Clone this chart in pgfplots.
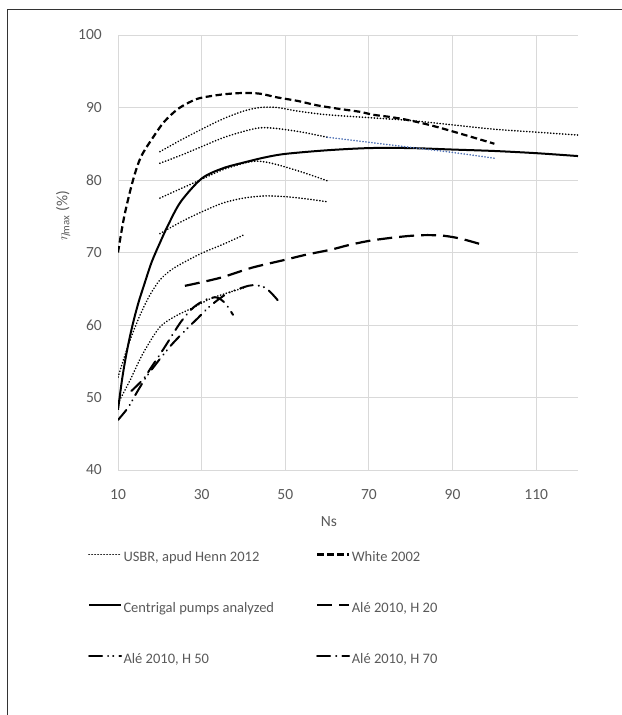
\documentclass[border=0pt]{standalone}
\usepackage{pgfplots}
\pgfplotsset{compat=1.18}
\usepackage{fontspec}
\setmainfont{Carlito}
\definecolor{gridgray}{RGB}{217,217,217}
\definecolor{txtgray}{RGB}{89,89,89}
\definecolor{usbrblue}{RGB}{79,113,180}
\begin{document}
\begin{tikzpicture}[x=1bp,y=1bp]
\useasboundingbox (0,0) rectangle (622,715);
\draw[line width=1.3bp, black!80] (7.5,0) -- (7.5,705.5) -- (622,705.5);
\begin{axis}[
  at={(118bp,245bp)}, anchor=south west,
  scale only axis, width=460bp, height=435bp,
  xmin=10, xmax=120, ymin=40, ymax=100,
  xtick={10,30,...,110}, ytick={40,50,...,100},
  grid=major, major grid style={draw=gridgray, line width=0.9bp},
  axis x line*=bottom, axis y line*=left,
  axis line style={draw=gridgray, line width=0.9bp},
  major tick length=0pt,
  tick label style={font=\fontsize{15.5bp}{18bp}\selectfont, text=txtgray, inner sep=0pt},
  /pgf/number format/assume math mode=true,
  xticklabel style={yshift=-19bp},
  yticklabel style={xshift=-16bp},
  xlabel={Ns}, ylabel={$\eta_{\mathrm{max}}$ (\%)},
  label style={font=\fontsize{15.5bp}{18bp}\selectfont, text=txtgray},
  xlabel style={at={(axis description cs:0.4587,-0.1195)}, anchor=center},
  ylabel style={at={(axis description cs:-0.1196,0.584)}, anchor=center},
  legend columns=2,
  legend cell align=left,
  legend style={at={(axis description cs:-0.0652,-0.1885)}, anchor=north west,
    draw=none, fill=none, inner sep=0pt, outer sep=0pt,
    font=\fontsize{14.5bp}{17bp}\selectfont, text=txtgray,
    nodes={inner sep=0pt, text height=10bp, text depth=3bp},
    row sep=37.5bp,
    /tikz/every odd column/.append style={column sep=1.5bp},
    /tikz/every even column/.append style={column sep=42bp}},
  legend image code/.code={\draw[#1] (0bp,4bp) -- (32bp,4bp);},
  usbr/.style={black, line width=1.6bp, dash pattern=on 0.3bp off 2.7bp, line cap=round},
]
% USBR curve a (legend)
\addplot[usbr, smooth] coordinates {(20,83.9)(25,85.5)(30,87.0)(35,88.4)(40,89.5)(44,90.0)(48,90.0)(53,89.5)(60,89.0)(70,88.6)(80,88.2)(90,87.6)(100,87.0)(110,86.6)(120,86.2)};
\addlegendentry{USBR, apud Henn 2012}
% White 2002
\addplot[black, line width=2.2bp, dash pattern=on 6.5bp off 3.5bp, smooth] coordinates {(10,70)(11.5,75)(13.6,80)(15.5,83.2)(18.4,85.9)(21,88)(24.1,89.7)(27,90.7)(29.6,91.3)(35,91.8)(39.9,92.0)(44,91.9)(48,91.4)(53,90.9)(57.6,90.3)(63,89.8)(67.9,89.4)(71,89.0)(75,88.7)(79.1,88.3)(83,87.8)(87,87.2)(93,86.2)(100,85.0)};
\addlegendentry{White 2002}
% Centrifugal pumps
\addplot[black, line width=2bp, smooth] coordinates {(10,48.3)(11,52.6)(12,56)(13,58.8)(14,61.2)(15,63.3)(16,65.1)(18,68.6)(20,71.3)(22,73.8)(25,77)(30,80.2)(35,81.6)(40,82.4)(45,83.1)(50,83.6)(60,84.1)(70,84.4)(80,84.4)(90,84.2)(100,84)(110,83.7)(120,83.3)};
\addlegendentry{Centrigal pumps analyzed}
% Ale H20
\addplot[black, line width=2.2bp, dash pattern=on 15bp off 7bp, smooth] coordinates {(26,65.4)(30,65.9)(35,66.6)(42,67.9)(50,69.0)(55,69.7)(61,70.4)(65,71.0)(70,71.6)(75,72.0)(80,72.3)(84,72.4)(88,72.3)(92,71.9)(97,71.1)};
\addlegendentry{Alé 2010, H 20}
% Ale H50
\addplot[black, line width=2bp, line cap=round, dash pattern=on 13bp off 6bp on 0.2bp off 5bp on 0.2bp off 6bp, smooth] coordinates {(10,46.9)(12.4,48.6)(14.5,50.7)(16.5,52.6)(18,53.8)(20,55.3)(23,57.4)(26,59.2)(29,60.9)(32,62.6)(36,64.3)(40,65.2)(42.3,65.5)(45,65.2)(47,64.2)(48.8,63)};
\addlegendentry{Alé 2010, H 50}
% Ale H70
\addplot[black, line width=2bp, line cap=round, dash pattern=on 13bp off 6bp on 0.2bp off 6bp, smooth] coordinates {(13.2,50.9)(16,52.5)(18,54.2)(21,56.8)(25,60.4)(28,62.4)(31,63.5)(33.5,63.8)(35.5,63.1)(37.5,61.4)};
\addlegendentry{Alé 2010, H 70}
% remaining USBR curves
\addplot[usbr, smooth, forget plot] coordinates {(20,82.3)(25,83.4)(30,84.6)(35,85.8)(40,86.7)(44,87.2)(48,87.1)(54,86.6)(60,85.9)};
\addplot[usbr, usbrblue, smooth, forget plot] coordinates {(60,85.9)(70,85.2)(80,84.5)(90,83.8)(100,83.0)};
\addplot[usbr, smooth, forget plot] coordinates {(20,77.5)(25,78.8)(30,80.1)(35,81.4)(40,82.3)(43,82.6)(46,82.4)(50,81.8)(55,80.9)(60,79.9)};
\addplot[usbr, smooth, forget plot] coordinates {(20,72.6)(25,74.2)(30,75.6)(35,76.8)(40,77.5)(45,77.8)(50,77.7)(55,77.4)(60,77.0)};
\addplot[usbr, smooth, forget plot] coordinates {(10,52.8)(12.5,57.3)(15,61)(17.5,64)(20,66.2)(22.5,67.5)(25,68.4)(30,69.9)(35,71.1)(40,72.4)};
\addplot[usbr, smooth, forget plot] coordinates {(10,49.2)(12.9,52.4)(16,56.1)(20,59.7)(24,61.3)(28,62.4)(32,63.6)(36,64.4)(40,65.1)};
\end{axis}
\end{tikzpicture}
\end{document}
